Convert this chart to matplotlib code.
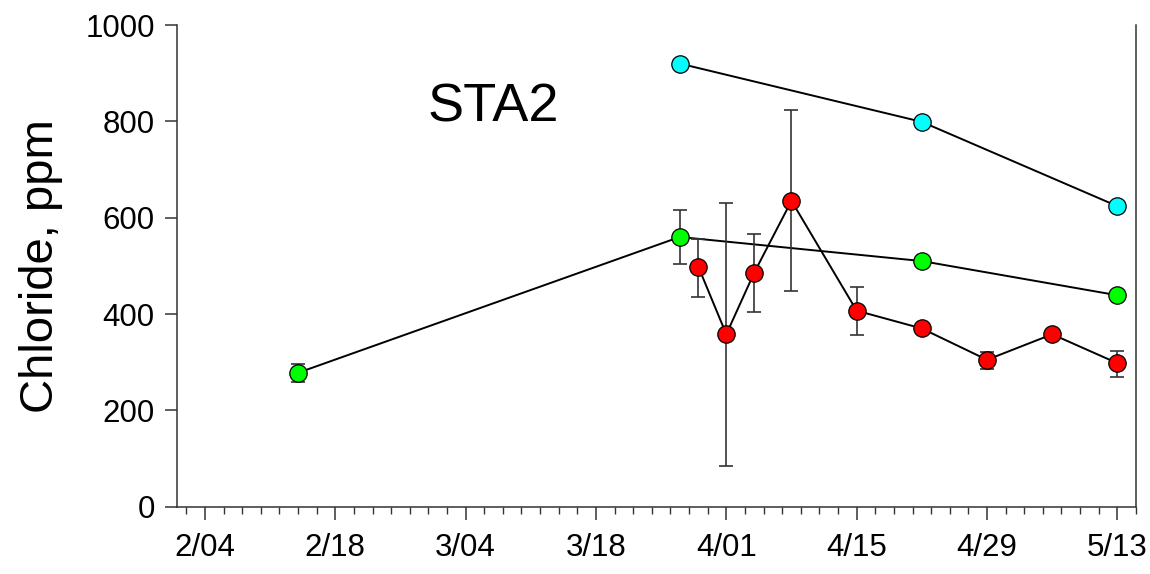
import datetime as dt
import matplotlib
matplotlib.use("Agg")
import matplotlib.pyplot as plt

plt.rcParams['font.family'] = ['Liberation Sans', 'DejaVu Sans']

YEAR = 2005

def d(s):
    m, day = s.split('/')
    return dt.datetime(YEAR, int(m), int(day))

# cyan series (no error bars)
cyan_dates = ['3/27', '4/22', '5/13']
cyan_vals = [920, 799, 624]

# green series
green_dates = ['2/14', '3/27', '4/22', '5/13']
green_vals = [278, 560, 510, 439]
green_lo = [258, 504, 510, 439]
green_hi = [296, 616, 510, 439]

# red series
red_dates = ['3/29', '4/01', '4/04', '4/08', '4/15', '4/22', '4/29', '5/06', '5/13']
red_vals = [498, 358, 486, 635, 407, 370, 305, 358, 298]
red_lo = [436, 84, 405, 448, 356, 370, 285, 358, 270]
red_hi = [555, 631, 566, 823, 457, 370, 322, 358, 324]

tick_labels = ['2/04', '2/18', '3/04', '3/18', '4/01', '4/15', '4/29', '5/13']


def plot_series(ax, dates, vals, lo, hi, color, z):
    x = [d(s) for s in dates]
    ax.plot(x, vals, color='black', lw=1.4, zorder=z)
    if lo is not None:
        yerr = [[v - l for v, l in zip(vals, lo)], [h - v for v, h in zip(vals, hi)]]
        ax.errorbar(x, vals, yerr=yerr, fmt='none', ecolor='#333333',
                    elinewidth=1.2, capsize=5, capthick=1.2, zorder=z)
    ax.plot(x, vals, 'o', ms=12.5, mfc=color, mec='black', mew=0.9,
            ls='none', zorder=z + 1)


fig = plt.figure(figsize=(11.5, 5.74), dpi=100)
ax = fig.add_axes([0.1539, 0.1172, 0.8339, 0.8392])

plot_series(ax, cyan_dates, cyan_vals, None, None, '#00ffff', 3)
plot_series(ax, green_dates, green_vals, green_lo, green_hi, '#00ff00', 3)
plot_series(ax, red_dates, red_vals, red_lo, red_hi, '#ff0000', 5)

ax.set_xlim(d('2/01'), d('5/15'))
ax.set_ylim(0, 1000)

ax.set_xticks([d(s) for s in tick_labels])
ax.set_xticklabels(tick_labels)
minor = [d('2/02') + dt.timedelta(days=2 * i) for i in range(52)]
ax.set_xticks(minor, minor=True)
ax.set_yticks(range(0, 1001, 200))

ax.spines['top'].set_visible(False)
for s in ['left', 'bottom', 'right']:
    ax.spines[s].set_color('#333333')
    ax.spines[s].set_linewidth(1.1)

ax.tick_params(axis='both', which='major', direction='out', length=9,
               width=1.1, color='#333333', labelsize=22.5, pad=7)
ax.tick_params(axis='x', which='major', pad=10)
ax.tick_params(axis='x', which='minor', direction='out', length=5,
               width=1.0, color='#333333')
ax.tick_params(axis='y', which='both', right=False)

ax.set_ylabel('Chloride, ppm', fontsize=34, labelpad=16)
ax.text(d('3/07'), 828, 'STA2', fontsize=39, ha='center', va='center')

fig.savefig('out.png', dpi=100)
